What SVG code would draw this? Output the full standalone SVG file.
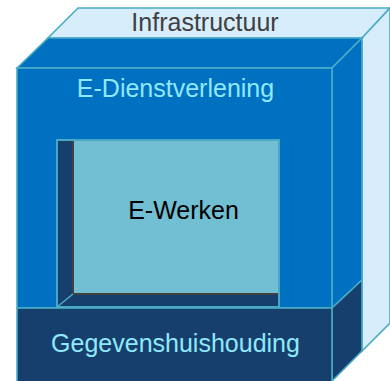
<svg xmlns="http://www.w3.org/2000/svg" width="390" height="381" viewBox="0 0 390 381">
  <style>
    .edge { stroke: #4BACC6; stroke-width: 1.6; stroke-linejoin: miter; }
    .sky { fill: #D7EDFB; }
    .blue { fill: #0070C0; }
    .navy { fill: #173F6D; }
    .back { fill: #72BED3; }
    .lbl { font-family: "Liberation Sans", Arial, sans-serif; font-size: 25px; text-anchor: middle; }
    .cyan { fill: #8FE9FA; }
  </style>

  <!-- outer layer: infrastructure cube -->
  <g id="infrastructuur">
    <polygon class="sky edge" points="78,8 390,8 362,38 48,38"/>
    <polygon class="sky edge" points="362,38 390,8 390,323 362,351"/>
    <text class="lbl" x="205" y="31" fill="#404040">Infrastructuur</text>
  </g>

  <!-- service layer -->
  <g id="e-dienstverlening">
    <polygon class="blue edge" points="17,68 48,38 362,38 332,68"/>
    <polygon class="blue edge" points="332,68 362,38 362,280 332,308"/>
    <rect class="blue edge" x="17" y="68" width="315" height="240"/>
    <line x1="293" y1="140" x2="293" y2="307" stroke="#0A69B5" stroke-width="1"/>
    <text class="lbl cyan" x="175.5" y="97">E-Dienstverlening</text>
  </g>

  <!-- recessed work area -->
  <g id="e-werken">
    <rect class="navy edge" x="57" y="140" width="222" height="167"/>
    <rect class="back" x="73" y="141" width="205.2" height="153"/>
    <polyline points="73,141 73,294 278,294" fill="none" stroke="#404040" stroke-width="2"/>
    <line class="edge" x1="57" y1="307" x2="73" y2="294"/>
    <rect x="57" y="140" width="222" height="167" fill="none" class="edge"/>
    <text class="lbl" x="183.5" y="219" fill="#000000">E-Werken</text>
  </g>

  <!-- data layer -->
  <g id="gegevenshuishouding">
    <polygon class="navy edge" points="332,308 362,280 362,351 332,381"/>
    <rect class="navy edge" x="17" y="308" width="315" height="80"/>
    <text class="lbl cyan" x="175.5" y="352">Gegevenshuishouding</text>
  </g>
</svg>
